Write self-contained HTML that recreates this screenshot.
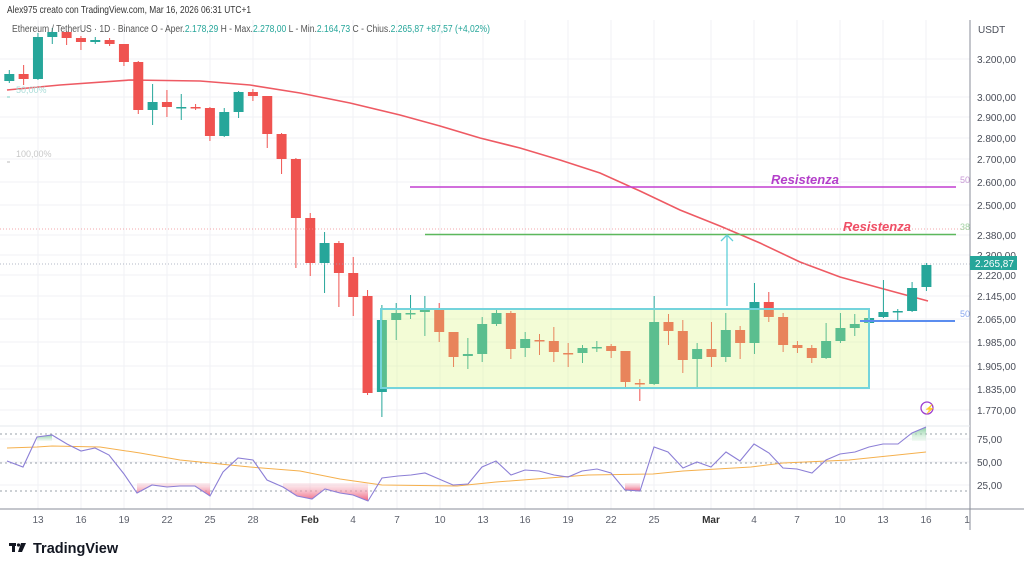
<!DOCTYPE html>
<html><head><meta charset="utf-8"><style>
html,body{margin:0;padding:0;background:#fff;}
body{width:1024px;height:568px;position:relative;overflow:hidden;font-family:"Liberation Sans",sans-serif;}
</style></head><body>
<svg id="s" width="1024" height="568" xmlns="http://www.w3.org/2000/svg" style="position:absolute;left:0;top:0">
<g id="grid" stroke="#f0f2f6" stroke-width="1"></g>
<g id="rsi"></g>
<path id="ema" fill="none" stroke="#ee5a63" stroke-width="1.6" d="M7,90 L60,85 L130,80 L200,81 L250,85 L300,93 L350,103 L400,115 L440,126 L480,138 L520,148 L560,160 L600,173 L640,191 L680,210 L720,226 L760,243 L800,262 L840,277 L880,288 L928,301"/>
<g id="candles"></g>
<rect x="381" y="309" width="488" height="79" fill="rgba(214,245,120,0.30)" stroke="#74d4dc" stroke-width="2"/>
<line x1="0" y1="264" x2="970" y2="264" stroke="#9aa3b5" stroke-width="0.8" stroke-dasharray="1,2"/>
<line x1="0" y1="229" x2="970" y2="229" stroke="#f08a90" stroke-width="0.8" stroke-dasharray="1,2"/>
<line x1="410" y1="187" x2="956" y2="187" stroke="#c23fd0" stroke-width="1.6"/>
<line x1="425" y1="234.5" x2="956" y2="234.5" stroke="#5cb85c" stroke-width="1.6"/>
<line x1="860" y1="321" x2="955" y2="321" stroke="#5b8def" stroke-width="2"/>
<line x1="727" y1="306" x2="727" y2="235" stroke="#5fd0d8" stroke-width="1.3"/>
<path d="M721,241 L727,235 L733,241" fill="none" stroke="#5fd0d8" stroke-width="1.3"/>
<text x="771" y="184" font-size="13" font-weight="bold" font-style="italic" fill="#b43fca">Resistenza</text>
<text x="843" y="231" font-size="13" font-weight="bold" font-style="italic" fill="#ef4f66">Resistenza</text>
<text x="960" y="183" font-size="9" fill="#c99ad6">50</text>
<text x="960" y="230" font-size="9" fill="#a3d3a3">38</text>
<text x="960" y="317" font-size="9" fill="#8aa8ef">50</text>
<text x="16" y="93" font-size="9" fill="#a9dcd8">50,00%</text>
<text x="16" y="157" font-size="9" fill="#c8c8c8">100,00%</text>
<line x1="7" y1="97" x2="10" y2="97" stroke="#7ccfc6"/>
<line x1="7" y1="162" x2="10" y2="162" stroke="#bbb"/>
<circle cx="927" cy="408" r="6" fill="none" stroke="#9c3fd0" stroke-width="1.3"/>
<text x="924" y="412" font-size="9" fill="#9c3fd0">⚡</text>
<line x1="970" y1="20" x2="970" y2="530" stroke="#8a8e99" stroke-width="1"/>
<line x1="0" y1="509" x2="1024" y2="509" stroke="#8a8e99" stroke-width="1"/>
<line x1="0" y1="426" x2="970" y2="426" stroke="#e6e8ee" stroke-width="1"/>
<g font-size="10" fill="#4a4e59">
<text x="978" y="33">USDT</text>
<text x="977" y="63">3.200,00</text>
<text x="977" y="101">3.000,00</text>
<text x="977" y="121">2.900,00</text>
<text x="977" y="142">2.800,00</text>
<text x="977" y="163">2.700,00</text>
<text x="977" y="186">2.600,00</text>
<text x="977" y="209">2.500,00</text>
<text x="977" y="239">2.380,00</text>
<text x="977" y="259">2.300,00</text>
<text x="977" y="279">2.220,00</text>
<text x="977" y="300">2.145,00</text>
<text x="977" y="323">2.065,00</text>
<text x="977" y="346">1.985,00</text>
<text x="977" y="370">1.905,00</text>
<text x="977" y="393">1.835,00</text>
<text x="977" y="414">1.770,00</text>
<text x="977" y="443">75,00</text>
<text x="977" y="466">50,00</text>
<text x="977" y="489">25,00</text>
</g>
<rect x="970" y="256" width="47" height="14" fill="#26a69a"/>
<text x="975" y="267" font-size="10" fill="#fff">2.265,87</text>
<g font-size="10" fill="#5d616c" text-anchor="middle">
<text x="38" y="523">13</text><text x="81" y="523">16</text><text x="124" y="523">19</text><text x="167" y="523">22</text><text x="210" y="523">25</text><text x="253" y="523">28</text><text x="310" y="523" font-weight="bold" fill="#333">Feb</text><text x="353" y="523">4</text><text x="397" y="523">7</text><text x="440" y="523">10</text><text x="483" y="523">13</text><text x="525" y="523">16</text><text x="568" y="523">19</text><text x="611" y="523">22</text><text x="654" y="523">25</text><text x="711" y="523" font-weight="bold" fill="#333">Mar</text><text x="754" y="523">4</text><text x="797" y="523">7</text><text x="840" y="523">10</text><text x="883" y="523">13</text><text x="926" y="523">16</text><text x="967" y="523">1</text>
</g>
<text x="7" y="13" font-size="10.5" fill="#333" textLength="244" lengthAdjust="spacingAndGlyphs">Alex975 creato con TradingView.com, Mar 16, 2026 06:31 UTC+1</text>
<text x="12" y="32" font-size="10" fill="#555" textLength="478" lengthAdjust="spacingAndGlyphs">Ethereum / TetherUS · 1D · Binance  O - Aper.<tspan fill="#26a69a">2.178,29</tspan>  H - Max.<tspan fill="#26a69a">2.278,00</tspan>  L - Min.<tspan fill="#26a69a">2.164,73</tspan>  C - Chius.<tspan fill="#26a69a">2.265,87</tspan>  <tspan fill="#26a69a">+87,57 (+4,02%)</tspan></text>
<g fill="#131722"><rect x="9" y="543" width="7" height="3"/><rect x="12" y="543" width="3" height="9"/><circle cx="18.5" cy="545" r="1.6"/><path d="M21,543 L26,543 L22,552 L18,552 Z"/></g>
<text x="33" y="553" font-size="14.5" font-weight="bold" fill="#131722">TradingView</text>
<defs>
<linearGradient id="rg" x1="0" y1="0" x2="0" y2="1"><stop offset="0" stop-color="#f7c6d0" stop-opacity="0.3"/><stop offset="1" stop-color="#ee5a78" stop-opacity="0.95"/></linearGradient>
<linearGradient id="gg" x1="0" y1="0" x2="0" y2="1"><stop offset="0" stop-color="#6cc48a" stop-opacity="0.8"/><stop offset="1" stop-color="#d8f0dc" stop-opacity="0.3"/></linearGradient>
</defs>
</svg>
<script>
var NS="http://www.w3.org/2000/svg",s=document.getElementById('s');
function el(p,t,a){var e=document.createElementNS(NS,t);for(var k in a)e.setAttribute(k,a[k]);p.appendChild(e);return e;}
var g=document.getElementById('grid');
[59,97,117,138,159,182,205,235,255,275,296,319,342,366,389,410,439,462,485].forEach(function(y){el(g,'line',{x1:0,x2:970,y1:y,y2:y});});
[38,81,124,167,210,253,310,353,397,440,483,525,568,611,654,711,754,797,840,883,926].forEach(function(x){el(g,'line',{x1:x,x2:x,y1:20,y2:509});});
var D=[
['g',74,81,70,83],['r',74,79,65,85],['g',37,79,33,80],['g',32,37,28,44],['r',32,38,32,45],['r',38,42,36,50],['g',40,42,37,44],['r',40,44,38,46],['r',44,62,44,66],['r',62,110,61,114],
['g',102,110,84,125],['r',102,107,90,117],['g',107,108,94,120],['r',107,108,104,110],['r',108,136,107,141],['g',112,136,108,137],['g',92,112,91,118],['r',92,96,89,101],['r',96,134,96,148],['r',134,159,133,174],['r',159,218,158,268],
['r',218,263,213,276],['g',243,263,232,293],['r',243,273,241,307],['r',273,297,257,316],['r',296,393,290,395],['g',320,392,305,417],
['g',313,320,303,340],['g',313,314,295,319],['g',309,312,296,336],['r',309,332,303,342],['r',332,357,332,367],['g',354,356,338,369],['g',324,354,317,362],['g',313,324,308,326],['r',313,349,311,359],['g',339,348,332,357],['r',340,341,334,355],['r',341,352,327,362],['r',353,354,343,367],['g',348,353,345,363],['g',347,348,341,352],['r',346,351,344,358],['r',351,382,351,387],['r',383,384,379,401],['g',322,384,296,385],['r',322,331,314,345],['r',331,360,320,373],['g',349,359,343,389],
['r',349,357,322,367],['g',330,357,313,362],['r',330,343,326,359],['g',302,343,283,354],['r',302,317,292,322],['r',317,345,313,352],['r',345,348,341,353],['r',348,358,345,363],['g',341,358,323,359],['g',328,341,313,343],['g',324,328,314,336],['g',318,323,313,325],
['g',312,317,280,318],['g',311,312,309,320],['g',288,311,282,312],['g',265,287,263,291]];
var c=document.getElementById('candles');
D.forEach(function(d,i){var x=9.3+14.33*i,col=d[0]=='g'?'#26a69a':'#ef5350';
el(c,'line',{x1:x,x2:x,y1:d[3],y2:d[4],stroke:col,'stroke-width':1});
el(c,'rect',{x:x-5,y:d[1],width:10,height:Math.max(1.5,d[2]-d[1]),fill:col});});
var R=document.getElementById('rsi');
[434,463,491].forEach(function(y){el(R,'line',{x1:0,x2:970,y1:y,y2:y,stroke:'#9aa0aa','stroke-width':1,'stroke-dasharray':'2,3'});});
var P=[[7,461],[23,467],[37,437],[52,435],[67,444],[81,451],[95,448],[109,455],[124,474],[137,493],[152,485],[167,487],[180,486],[195,486],[210,496],[223,472],[238,458],[253,460],[267,480],[283,487],[297,496],[312,499],[325,489],[340,493],[353,495],[368,501],[382,478],[398,476],[411,475],[425,473],[439,479],[453,485],[468,484],[482,467],[496,461],[511,475],[525,470],[539,471],[554,475],[568,477],[582,471],[597,469],[611,473],[625,490],[640,491],[654,447],[668,452],[683,468],[697,462],[711,467],[726,452],[740,461],[754,444],[769,453],[783,468],[797,469],[812,473],[826,460],[840,454],[855,452],[869,447],[883,444],[898,444],[912,433],[926,427]];
function fill(a,b,lvl,f){var pts=P.slice(a,b+1),d='M'+pts[0][0]+','+lvl;pts.forEach(function(p){d+=' L'+p[0]+','+p[1];});d+=' L'+pts[pts.length-1][0]+','+lvl+' Z';el(R,'path',{d:d,fill:f});}
fill(9,14,483,'url(#rg)');fill(19,25,483,'url(#rg)');fill(43,44,483,'url(#rg)');
fill(2,3,441,'url(#gg)');fill(63,64,441,'url(#gg)');
var Y=[[7,448],[37,447],[52,446],[100,447],[140,453],[180,460],[210,463],[250,467],[300,471],[340,479],[382,485],[457,486],[496,482],[588,475],[653,474],[683,471],[751,467],[783,463],[849,460],[926,452]];
el(R,'polyline',{points:Y.map(function(p){return p.join(',')}).join(' '),fill:'none',stroke:'#f5b04d','stroke-width':1});
el(R,'polyline',{points:P.map(function(p){return p.join(',')}).join(' '),fill:'none',stroke:'#8c7fd6','stroke-width':1.1});
</script>
</body></html>
